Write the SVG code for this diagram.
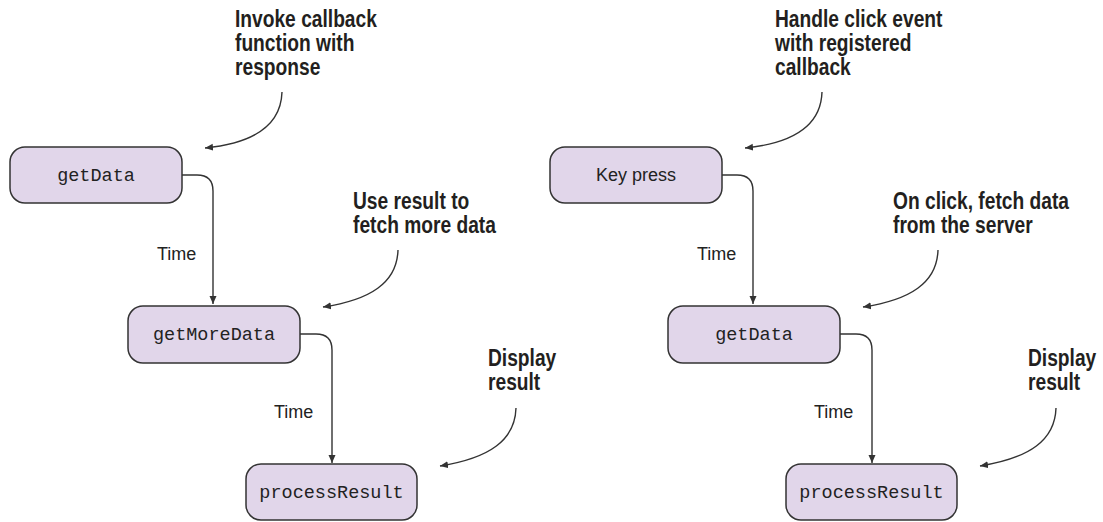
<svg xmlns="http://www.w3.org/2000/svg" width="1103" height="522" viewBox="0 0 1103 522">
  <style>
    .box { fill: #e1d6ea; stroke: #333333; stroke-width: 1.5; }
    .mono { font-family: "Liberation Mono", "Courier New", monospace; font-size: 18.5px; fill: #222222; text-anchor: middle; }
    .sans { font-family: "Liberation Sans", Arial, sans-serif; font-size: 18px; fill: #222222; }
    .note { font-family: "Liberation Sans", Arial, sans-serif; font-weight: bold; font-size: 23px; fill: #231f20; }
    .flow { fill: none; stroke: #333333; stroke-width: 1.4; marker-end: url(#arrow); }
  </style>
  <defs>
    <marker id="arrow" markerUnits="userSpaceOnUse" markerWidth="9" markerHeight="8" refX="8" refY="4" orient="auto">
      <path d="M0,0.5 L8,4 L0,7.5 z" fill="#333333"/>
    </marker>
  </defs>
  <rect width="1103" height="522" fill="#ffffff"/>

  <g id="connectors">
    <path class="flow" d="M182,175 H197 Q213,175 213,191 V304"/>
    <path class="flow" d="M300,334 H316 Q332,334 332,350 V463"/>
    <path class="flow" d="M282,92 C281,125 255,143 205,148"/>
    <path class="flow" d="M398,250 C397,283 370,300 323,307"/>
    <path class="flow" d="M516,408 C515,440 490,458 440,466"/>
    <path class="flow" d="M722,175 H737 Q753,175 753,191 V304"/>
    <path class="flow" d="M840,334 H856 Q872,334 872,350 V463"/>
    <path class="flow" d="M822,92 C821,125 795,143 745,148"/>
    <path class="flow" d="M938,250 C937,283 910,300 863,307"/>
    <path class="flow" d="M1056,408 C1055,440 1030,458 980,466"/>
  </g>

  <g id="labels">
    <text class="sans" x="157" y="260">Time</text>
    <text class="sans" x="274" y="418">Time</text>
    <text class="sans" x="697" y="260">Time</text>
    <text class="sans" x="814" y="418">Time</text>
  </g>

  <g id="note-invoke" transform="translate(235,0) scale(0.835,1)">
    <text class="note" x="0" y="27">Invoke callback</text>
    <text class="note" x="0" y="51">function with</text>
    <text class="note" x="0" y="75">response</text>
  </g>
  <g id="note-use-result" transform="translate(353,0) scale(0.835,1)">
    <text class="note" x="0" y="209">Use result to</text>
    <text class="note" x="0" y="233">fetch more data</text>
  </g>
  <g id="note-display-left" transform="translate(488,0) scale(0.835,1)">
    <text class="note" x="0" y="366">Display</text>
    <text class="note" x="0" y="390">result</text>
  </g>
  <g id="note-handle-click" transform="translate(775,0) scale(0.835,1)">
    <text class="note" x="0" y="27">Handle click event</text>
    <text class="note" x="0" y="51">with registered</text>
    <text class="note" x="0" y="75">callback</text>
  </g>
  <g id="note-on-click" transform="translate(893,0) scale(0.835,1)">
    <text class="note" x="0" y="209">On click, fetch data</text>
    <text class="note" x="0" y="233">from the server</text>
  </g>
  <g id="note-display-right" transform="translate(1028,0) scale(0.835,1)">
    <text class="note" x="0" y="366">Display</text>
    <text class="note" x="0" y="390">result</text>
  </g>

  <g id="node-getData-left">
    <rect class="box" x="10" y="147" width="172" height="56" rx="15"/>
    <text class="mono" x="96" y="181">getData</text>
  </g>
  <g id="node-getMoreData">
    <rect class="box" x="128" y="306" width="172" height="57" rx="15"/>
    <text class="mono" x="214" y="340">getMoreData</text>
  </g>
  <g id="node-processResult-left">
    <rect class="box" x="246" y="464" width="171" height="56" rx="15"/>
    <text class="mono" x="331.5" y="498">processResult</text>
  </g>
  <g id="node-keypress">
    <rect class="box" x="550" y="147" width="172" height="56" rx="15"/>
    <text class="sans" x="636" y="181" text-anchor="middle">Key press</text>
  </g>
  <g id="node-getData-right">
    <rect class="box" x="668" y="306" width="172" height="57" rx="15"/>
    <text class="mono" x="754" y="340">getData</text>
  </g>
  <g id="node-processResult-right">
    <rect class="box" x="786" y="464" width="171" height="56" rx="15"/>
    <text class="mono" x="871.5" y="498">processResult</text>
  </g>
</svg>
